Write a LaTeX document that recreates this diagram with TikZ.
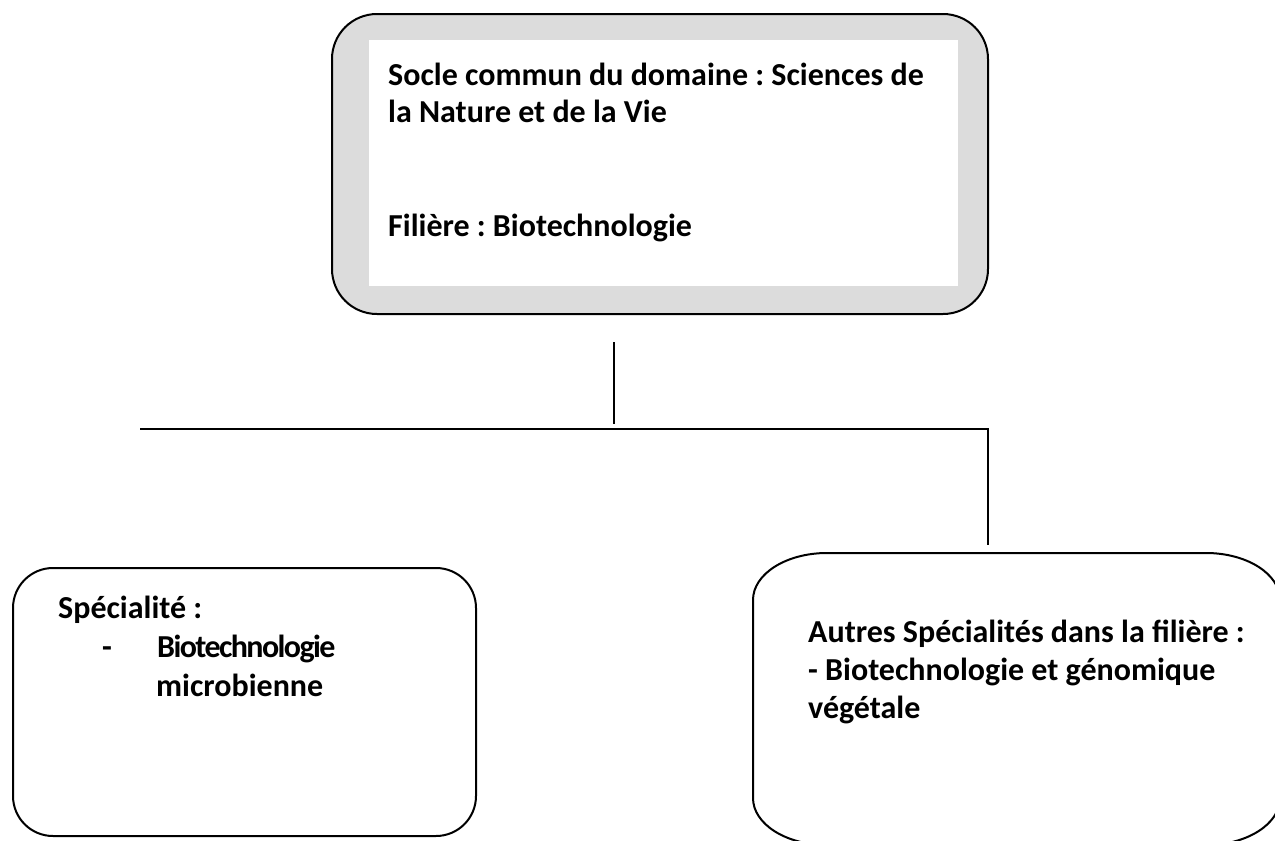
\documentclass[tikz,border=0pt]{standalone}
\usepackage{fontspec}
\setmainfont{Carlito}
\definecolor{boxgray}{HTML}{DCDCDC}
\frenchspacing
\begin{document}
\begin{tikzpicture}[x=1pt,y=-1pt,
  boxline/.style={draw=black,line width=2pt},
  conn/.style={draw=black,line width=2.2pt},
  txt/.style={anchor=base west,inner sep=0pt,font=\bfseries\fontsize{32}{38}\selectfont}]
\useasboundingbox (0,0) rectangle (1275,841);
\clip (0,0) rectangle (1275,841);
% top box
\node[boxline,fill=boxgray,rounded corners=45pt,minimum width=656pt,minimum height=300pt,inner sep=0pt,anchor=north west] (top) at (331,13) {};
\node[fill=white,minimum width=589pt,minimum height=246pt,inner sep=0pt,anchor=north west] (inner) at (369,40) {};
\node[txt] (t1) at (388,85) {Socle commun du domaine : Sciences de};
\node[txt] (t2) at (388,122) {la Nature et de la Vie};
\node[txt] (t3) at (388,236) {Filière : Biotechnologie};
% left box
\node[boxline,rounded corners=40pt,minimum width=463pt,minimum height=268pt,inner sep=0pt,anchor=north west] (left) at (12,567) {};
\node[txt] (l1) at (58,618) {Spécialité :};
\node[txt] (l2) at (102,657) {-};
\node[txt] (l3) at (157,657) {\addfontfeature{LetterSpace=-5}Biotechnologie};
\node[txt] (l4) at (156,696) {microbienne};
% right box
\node[minimum width=527pt,minimum height=292pt,inner sep=0pt,anchor=north west] (right) at (753,553) {};
\draw[boxline] (753,600) -- (753,798) .. controls (753,824) and (786,845) .. (827,845)
  -- (1206,845) .. controls (1247,845) and (1280,824) .. (1280,798)
  -- (1280,600) .. controls (1280,574) and (1247,553) .. (1206,553)
  -- (827,553) .. controls (786,553) and (753,574) .. (753,600) -- cycle;
\node[txt] (r1) at (808,642) {Autres Spécialités dans la filière :};
\node[txt] (r2) at (808,680) {- Biotechnologie et génomique};
\node[txt] (r3) at (808,718) {végétale};
% connectors
\coordinate (a1) at (614,342);
\coordinate (a2) at (614,424);
\coordinate (h1) at (140,429);
\coordinate (h2) at (988,429);
\coordinate (v2) at (988,545);
\draw[conn] (a1) -- (a2);
\draw[conn] (h1) -- (h2) -- (v2);
\end{tikzpicture}
\end{document}
